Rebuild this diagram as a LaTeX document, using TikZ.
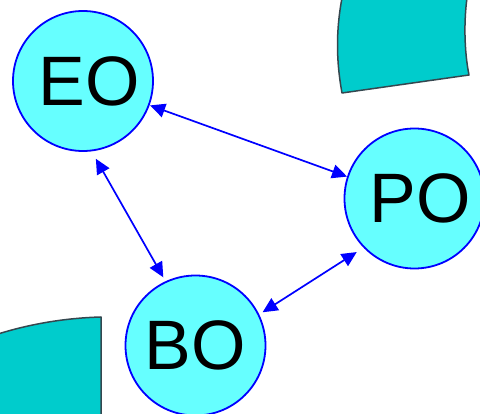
\documentclass[tikz,border=0pt]{standalone}
\usepackage{fontspec}
\setmainfont{Liberation Sans}
\usetikzlibrary{arrows.meta}
\definecolor{circfill}{HTML}{66FFFF}
\definecolor{tealfill}{HTML}{00CCCC}
\definecolor{tealedge}{HTML}{35474F}
\tikzset{
  state/.style={circle, draw=blue, line width=1.8pt, fill=circfill, minimum size=140pt, inner sep=0pt, font=\fontsize{70}{70}\selectfont},
  link/.style={draw=blue, line width=1.7pt, {Triangle[length=15pt,width=14pt]}-{Triangle[length=15pt,width=14pt]}},
  blob/.style={fill=tealfill, draw=tealedge, line width=1.5pt, line join=round}
}
\begin{document}
\begin{tikzpicture}[x=1pt,y=-1pt]
\useasboundingbox (0,0) rectangle (480,414);
% teal shapes
\path[blob] (342,-2) .. controls (336,30) and (336,60) .. (342,93) -- (469,75) .. controls (464,50) and (464,20) .. (467,-2);
\path[blob] (-2,334) .. controls (30,324) and (65,318) .. (101,317) -- (101,416) -- (-2,416);
% nodes
\node[state] (EO) at (83,81) {\hspace*{12pt}EO};
\node[state] (PO) at (414.5,198.5) {\hspace*{12pt}PO};
\node[state] (BO) at (195.5,345.5) {BO};
% links
\draw[link, shorten <=0.5pt, shorten >=0pt] (EO.340) -- (PO.162);
\draw[link, shorten <=8.5pt, shorten >=4.5pt] (EO.277) -- (BO.115);
\draw[link, shorten <=4pt, shorten >=8pt] (BO.26) -- (PO.224);
\end{tikzpicture}
\end{document}
